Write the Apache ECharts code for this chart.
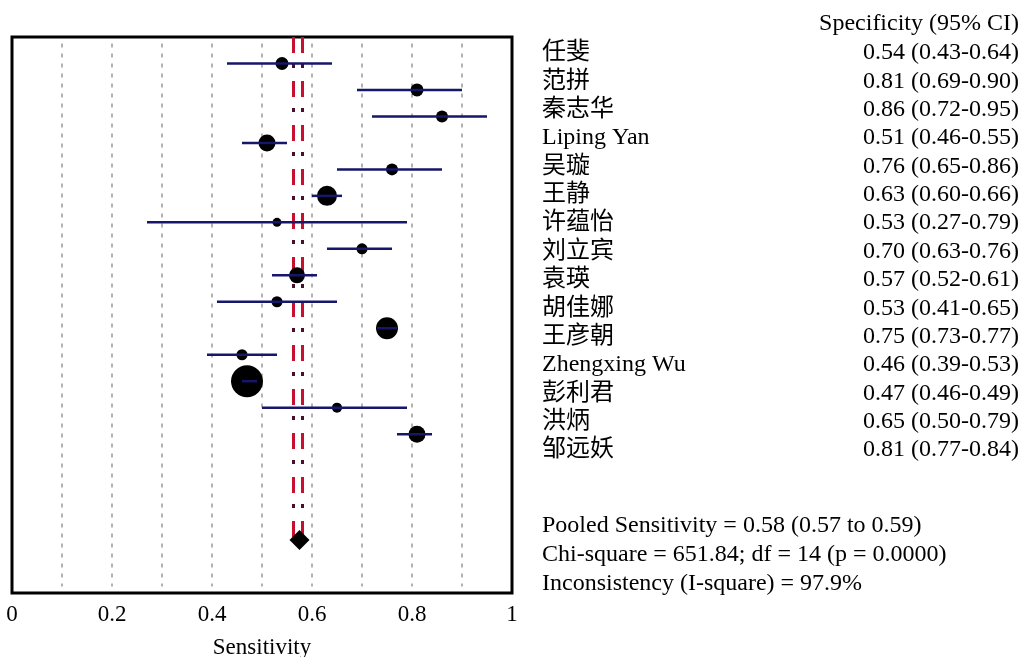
<!DOCTYPE html>
<html><head><meta charset="utf-8">
<script src="https://cdn.jsdelivr.net/npm/echarts@6/dist/echarts.min.js"></script>
<style>html,body{margin:0;padding:0;background:#fff}#c{width:1020px;height:657px}</style>
</head><body><div id="c"></div>
<script>
const studies = ['任斐','范拼','秦志华','Liping Yan','吴璇','王静','许蕴怡','刘立宾','袁瑛','胡佳娜','王彦朝','Zhengxing Wu','彭利君','洪炳','邹远妖'];
const estimate = [0.54,0.81,0.86,0.51,0.76,0.63,0.53,0.70,0.57,0.53,0.75,0.46,0.47,0.65,0.81];
const ciLow   = [0.43,0.69,0.72,0.46,0.65,0.60,0.27,0.63,0.52,0.41,0.73,0.39,0.46,0.50,0.77];
const ciHigh  = [0.64,0.90,0.95,0.55,0.86,0.66,0.79,0.76,0.61,0.65,0.77,0.53,0.49,0.79,0.84];
const weights = [4.7,4.7,4.0,8.0,4.0,11.1,2.25,3.4,7.1,3.4,13.4,3.4,28.4,2.8,8.0];
const ciLabels = ['0.54 (0.43-0.64)','0.81 (0.69-0.90)','0.86 (0.72-0.95)','0.51 (0.46-0.55)','0.76 (0.65-0.86)','0.63 (0.60-0.66)','0.53 (0.27-0.79)','0.70 (0.63-0.76)','0.57 (0.52-0.61)','0.53 (0.41-0.65)','0.75 (0.73-0.77)','0.46 (0.39-0.53)','0.47 (0.46-0.49)','0.65 (0.50-0.79)','0.81 (0.77-0.84)'];
const pooledEstimate = 0.575;
const pooledLines = [0.563, 0.581];
const pooledRow = 18;
const xTicks = [0,0.1,0.2,0.3,0.4,0.5,0.6,0.7,0.8,0.9,1];
const headerText = 'Specificity (95% CI)';
const xAxisTitle = 'Sensitivity';
const summaryText = ['Pooled Sensitivity = 0.58 (0.57 to 0.59)','Chi-square = 651.84; df = 14 (p = 0.0000)','Inconsistency (I-square) = 97.9%'];

const FONT = '"Liberation Serif","Times New Roman","Noto Sans CJK SC",serif';
const FS = 24;
const AFS = 23;

const chart = echarts.init(document.getElementById('c'), null, {renderer:'canvas'});

const redSeries = [];
pooledLines.forEach(x => {
  redSeries.push({
    type:'line', xAxisIndex:0, yAxisIndex:0, symbol:'none', silent:true, z:3,
    data:[[x,-1],[x,17.9]],
    lineStyle:{color:'#c8102e', width:3, type:[16,28], cap:'butt'}
  });
  redSeries.push({
    type:'line', xAxisIndex:0, yAxisIndex:0, symbol:'none', silent:true, z:3,
    data:[[x,-1],[x,17.9]],
    lineStyle:{color:'#4a0f2a', width:3, type:[4,40], dashOffset:17, cap:'butt'}
  });
});

const inner = xTicks.filter(t => t > 0 && t < 1);

const option = {
  animation:false,
  backgroundColor:'#fff',
  grid:[
    {left:12, right:508, top:37, bottom:64, show:true, borderColor:'#000', borderWidth:3, backgroundColor:'transparent', containLabel:false, outerBoundsMode:'none'},
    {left:542, right:1, top:38.8, height:425.4, show:false, containLabel:false, outerBoundsMode:'none'}
  ],
  xAxis:[
    {type:'value', gridIndex:0, min:0, max:1, interval:0.1,
     axisLine:{show:false}, axisTick:{show:false}, splitLine:{show:false},
     axisLabel:{color:'#000', fontFamily:FONT, fontSize:AFS, margin:10,
       formatter:v => { const k = Math.round(v*10); return (k%2===0) ? String(k/10) : ''; }},
     name:xAxisTitle, nameLocation:'middle', nameGap:43,
     nameTextStyle:{color:'#000', fontFamily:FONT, fontSize:AFS}},
    {type:'value', gridIndex:1, show:false, min:0, max:1}
  ],
  yAxis:[
    {type:'value', gridIndex:0, min:-1, max:20, inverse:true, show:false},
    {type:'category', gridIndex:1, inverse:true, data:studies, position:'left',
     axisLine:{show:false}, axisTick:{show:false}, splitLine:{show:false},
     axisLabel:{inside:true, interval:0, margin:0, align:'left', color:'#000', fontFamily:FONT, fontSize:FS}},
    {type:'category', gridIndex:1, inverse:true, data:ciLabels, position:'right',
     axisLine:{show:false}, axisTick:{show:false}, splitLine:{show:false},
     axisLabel:{inside:true, interval:0, margin:0, align:'right', color:'#000', fontFamily:FONT, fontSize:FS}}
  ],
  series:[
    {type:'custom', xAxisIndex:0, yAxisIndex:0, z:1, silent:true,
     data: inner.map(t=>[t]),
     renderItem:(params, api) => {
       const a = api.coord([api.value(0), -0.75]);
       const b = api.coord([api.value(0), 19.75]);
       return {type:'line', shape:{x1:a[0], y1:a[1], x2:b[0], y2:b[1]},
         style:{stroke:'#8a8a8a', lineWidth:1.3, lineDash:[4,6]}};
     }},
    ...redSeries,
    {type:'scatter', xAxisIndex:0, yAxisIndex:0, z:4, silent:true,
     data: estimate.map((v,i)=>[v,i,weights[i]]),
     symbol:'circle', symbolSize: d => 6*Math.sqrt(d[2]),
     itemStyle:{color:'#000', opacity:1}},
    {type:'custom', xAxisIndex:0, yAxisIndex:0, z:5, silent:true,
     data: ciLow.map((v,i)=>[v,ciHigh[i],i]),
     renderItem:(params, api) => {
       const a = api.coord([api.value(0), api.value(2)]);
       const b = api.coord([api.value(1), api.value(2)]);
       return {type:'line', shape:{x1:a[0], y1:a[1], x2:b[0], y2:b[1]},
         style:{stroke:'#16166a', lineWidth:2.5}};
     }},
    {type:'scatter', xAxisIndex:0, yAxisIndex:0, z:6, silent:true,
     data:[[pooledEstimate, pooledRow]], symbol:'diamond', symbolSize:[20,20],
     itemStyle:{color:'#000', opacity:1}},
    {type:'scatter', xAxisIndex:1, yAxisIndex:1, data:[], silent:true}
  ],
  graphic:[
    {type:'text', right:1, top:12, style:{text:headerText, font:FS+'px '+FONT, fill:'#000'}},
    ...summaryText.map((t,i)=>({type:'text', left:542, top:514+i*29, style:{text:t, font:FS+'px '+FONT, fill:'#000'}}))
  ]
};
chart.setOption(option);
</script></body></html>
